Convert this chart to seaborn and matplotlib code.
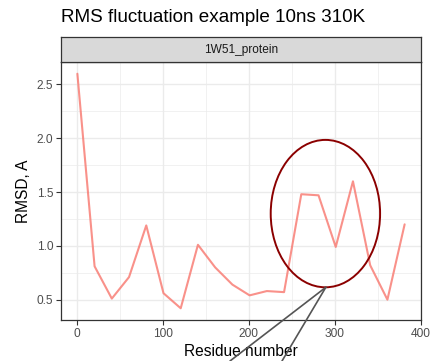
import numpy as np
import pandas as pd
import matplotlib
matplotlib.use("Agg")
import matplotlib.pyplot as plt
import seaborn as sns
from matplotlib.patches import Ellipse
from matplotlib.ticker import MultipleLocator

# ── data ─────────────────────────────────────────────────────────────────────
residue = [1, 21, 41, 61, 81, 101, 121, 141, 161, 181,
           201, 221, 241, 261, 281, 301, 321, 341, 361, 381]
rmsd = [2.60, 0.81, 0.51, 0.71, 1.19, 0.56, 0.42, 1.01, 0.80, 0.64,
        0.54, 0.58, 0.57, 1.48, 1.47, 0.99, 1.60, 0.82, 0.50, 1.20]
facet_label = "1W51_protein"
title = "RMS fluctuation example 10ns 310K"

df = pd.DataFrame({"residue": residue, "rmsd": rmsd})

sns.set_theme(style="white")
plt.rcParams["font.family"] = ["Liberation Sans", "DejaVu Sans"]

W, H = 433, 361
fig = plt.figure(figsize=(W / 100, H / 100), dpi=100)

# panel and strip in pixel geometry of the reference
px_l, px_r, px_t, px_b = 61, 421, 62, 320
strip_t = 37
ax = fig.add_axes([px_l / W, 1 - px_b / H, (px_r - px_l) / W, (px_b - px_t) / H])
strip = fig.add_axes([px_l / W, 1 - px_t / H, (px_r - px_l) / W, (px_t - strip_t) / H])

sns.lineplot(data=df, x="residue", y="rmsd", ax=ax, color="#F8766D",
             alpha=0.8, linewidth=1.5, zorder=3)

ax.set_xlim(-18, 400)
ax.set_ylim(0.311, 2.709)
ax.xaxis.set_major_locator(MultipleLocator(100))
ax.xaxis.set_minor_locator(MultipleLocator(50))
ax.yaxis.set_major_locator(MultipleLocator(0.5))
ax.yaxis.set_minor_locator(MultipleLocator(0.25))
ax.set_yticks([0.5, 1.0, 1.5, 2.0, 2.5])
ax.set_yticklabels(["0.5", "1.0", "1.5", "2.0", "2.5"])
ax.grid(which="major", color="#EBEBEB", linewidth=1.0, zorder=0)
ax.grid(which="minor", color="#EBEBEB", linewidth=0.5, zorder=0)
ax.set_axisbelow(True)
for s in ax.spines.values():
    s.set_color("#333333")
    s.set_linewidth(0.9)
ax.tick_params(which="major", length=3.5, width=0.8, color="#333333",
               labelsize=8.6, labelcolor="#4D4D4D", pad=2,
               bottom=True, left=True)
ax.tick_params(which="minor", length=0)
ax.set_xlabel("Residue number", fontsize=11.2, color="black", labelpad=3)
ax.set_ylabel("RMSD, A", fontsize=11.2, color="black", labelpad=4)

# annotation ellipse + pointer lines
ax.add_patch(Ellipse((289, 1.30), 127, 1.37, fill=False,
                     edgecolor="#8B0000", linewidth=1.4, zorder=4))
for fx in (230 / W, 282 / W):
    ax.annotate("", xy=(289.5, 0.615), xycoords="data",
                xytext=(fx, 0.0), textcoords="figure fraction",
                arrowprops=dict(arrowstyle="-", color="#555555", lw=1.2,
                                shrinkA=0, shrinkB=0),
                annotation_clip=False, zorder=5)

# facet strip
strip.set_facecolor("#D9D9D9")
strip.set_xticks([])
strip.set_yticks([])
for s in strip.spines.values():
    s.set_color("#333333")
    s.set_linewidth(0.9)
strip.text(0.5, 0.5, facet_label, ha="center", va="center",
           fontsize=8.6, color="#1A1A1A", transform=strip.transAxes)

fig.text(px_l / W, 1 - 9 / H, title, ha="left", va="top",
         fontsize=13.6, color="black")

fig.savefig("out.png", dpi=100)
